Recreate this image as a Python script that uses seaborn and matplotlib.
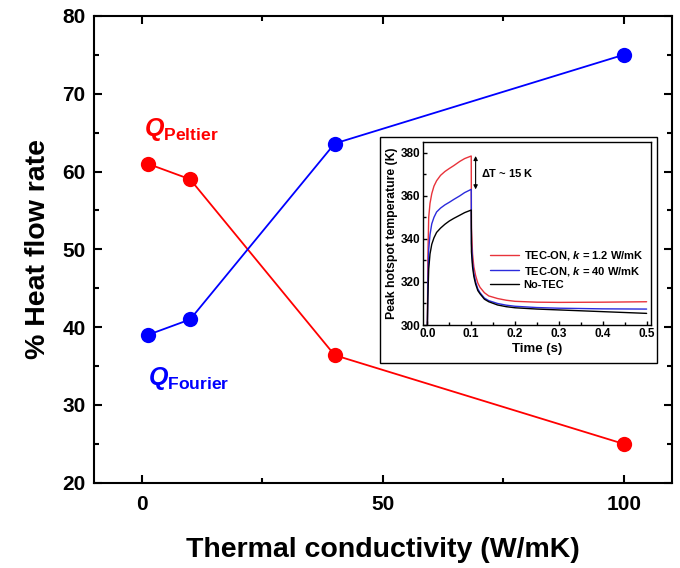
import numpy as np
import pandas as pd
import matplotlib
matplotlib.use("Agg")
import matplotlib.pyplot as plt
import seaborn as sns
from matplotlib.patches import Rectangle
from matplotlib.ticker import MultipleLocator

# ---------------- data ----------------
k_values = [1.2, 10, 40, 100]
q_peltier = [61.0, 59.0, 36.4, 25.0]
q_fourier = [39.0, 41.0, 63.6, 75.0]

inset_time = [0, 0.001, 0.003, 0.006, 0.01, 0.015, 0.021, 0.03, 0.04, 0.05,
              0.06, 0.074, 0.085, 0.1, 0.1005, 0.103, 0.106, 0.11, 0.115,
              0.12, 0.13, 0.14, 0.16, 0.18, 0.2, 0.25, 0.3, 0.4, 0.5]
temp_tec_k12 = [300, 330, 350, 356.5, 361, 364.5, 367, 369.5, 371.3, 372.7,
                374, 376, 377.3, 378.5, 345, 333, 327, 323, 319.5,
                317.5, 315, 313.5, 312.3, 311.5, 311, 310.6, 310.5, 310.6, 310.8]
temp_tec_k40 = [300, 318, 335, 342, 347, 350, 352.5, 354.3, 355.8, 357,
                358.3, 360, 361.5, 363, 338, 329, 324, 320, 316.8,
                315, 312.5, 311.3, 310, 309.2, 308.7, 308.1, 307.8, 307.5, 307.4]
temp_no_tec = [300, 312, 326, 333, 337.5, 340.5, 343, 345, 346.8, 348.3,
               349.5, 351, 352.2, 353.4, 334, 327, 322.5, 319, 316,
               314.5, 312, 310.8, 309.3, 308.5, 308, 307.4, 307, 306.2, 305.4]
inset_labels = [r"TEC-ON, $k$ = 1.2 W/mK", r"TEC-ON, $k$ = 40 W/mK", "No-TEC"]

# ---------------- style ----------------
sns.set_theme(style="ticks")
plt.rcParams["font.family"] = ["Liberation Sans", "DejaVu Sans"]
plt.rcParams["font.weight"] = "bold"
plt.rcParams["mathtext.fontset"] = "custom"
plt.rcParams["mathtext.it"] = "Liberation Sans:italic:bold"
plt.rcParams["mathtext.rm"] = "Liberation Sans:bold"
plt.rcParams["mathtext.bf"] = "Liberation Sans:bold"
plt.rcParams["axes.linewidth"] = 1.5
for key in ["text.color", "axes.labelcolor", "xtick.color", "ytick.color",
            "axes.edgecolor", "xtick.labelcolor", "ytick.labelcolor"]:
    plt.rcParams[key] = "black"

fig = plt.figure(figsize=(6.8, 5.68), dpi=100)
ax = fig.add_axes([0.138, 0.150, 0.850, 0.822])

main_df = pd.DataFrame({
    "k": k_values * 2,
    "q": q_peltier + q_fourier,
    "series": ["Peltier"] * len(k_values) + ["Fourier"] * len(k_values),
})
sns.lineplot(data=main_df, x="k", y="q", hue="series",
             palette={"Peltier": "#ff0000", "Fourier": "#0000ff"},
             marker="o", markersize=11, markeredgewidth=0, linewidth=1.3,
             legend=False, ax=ax)

ax.set_xlim(-10, 110)
ax.set_ylim(20, 80)
ax.xaxis.set_major_locator(MultipleLocator(50))
ax.xaxis.set_minor_locator(MultipleLocator(25))
ax.yaxis.set_major_locator(MultipleLocator(10))
ax.yaxis.set_minor_locator(MultipleLocator(5))
ax.tick_params(which="both", direction="in", top=True, right=True,
               width=1.5, labelsize=15)
ax.tick_params(which="major", length=6)
ax.tick_params(which="minor", length=3.5)
ax.tick_params(axis="x", pad=9)
ax.tick_params(axis="y", pad=6)
for lab in ax.get_xticklabels() + ax.get_yticklabels():
    lab.set_fontweight("bold")
ax.set_xlabel("Thermal conductivity (W/mK)", fontsize=20.5, fontweight="bold", labelpad=16)
ax.set_ylabel("% Heat flow rate", fontsize=20.5, fontweight="bold", labelpad=8)

ax.text(0.5, 64.6, r"$Q_{\mathrm{Peltier}}$", color="#ff0000", fontsize=18,
        ha="left", va="baseline")
ax.text(1.2, 32.6, r"$Q_{\mathrm{Fourier}}$", color="#0000ff", fontsize=18,
        ha="left", va="baseline")

# frame around the inset
frame = Rectangle((380 / 680, 1 - 363 / 568), (657 - 380) / 680, (363 - 137) / 568,
                  transform=fig.transFigure, facecolor="white", edgecolor="black",
                  linewidth=1.0, zorder=1)
fig.add_artist(frame)

ins = fig.add_axes([423 / 680, 1 - 325 / 568, (651 - 423) / 680, (325 - 142) / 568])
ins.set_zorder(2)
n = len(inset_time)
inset_df = pd.DataFrame({
    "t": inset_time * 3,
    "T": temp_tec_k12 + temp_tec_k40 + temp_no_tec,
    "case": [inset_labels[0]] * n + [inset_labels[1]] * n + [inset_labels[2]] * n,
})
sns.lineplot(data=inset_df, x="t", y="T", hue="case", hue_order=inset_labels,
             palette=["#e8333b", "#2b2bdc", "#000000"], linewidth=1.0,
             sort=False, ax=ins)
ins.set_xlim(-0.01, 0.51)
ins.set_ylim(300, 385)
ins.xaxis.set_major_locator(MultipleLocator(0.1))
ins.xaxis.set_minor_locator(MultipleLocator(0.05))
ins.yaxis.set_major_locator(MultipleLocator(20))
ins.yaxis.set_minor_locator(MultipleLocator(10))
ins.tick_params(which="both", direction="in", width=1.0, labelsize=8.5, pad=2)
ins.tick_params(which="major", length=3)
ins.tick_params(which="minor", length=2)
for sp in ins.spines.values():
    sp.set_linewidth(1.0)
for lab in ins.get_xticklabels() + ins.get_yticklabels():
    lab.set_fontweight("bold")
ins.set_xlabel("Time (s)", fontsize=9.5, fontweight="bold", labelpad=2)
ins.set_ylabel("Peak hotspot temperature (K)", fontsize=8.8, fontweight="bold", labelpad=2)
ins.annotate("", xy=(0.11, 363), xytext=(0.11, 378.5),
             arrowprops=dict(arrowstyle="<|-|>", color="black", lw=0.8,
                             mutation_scale=6, shrinkA=0, shrinkB=0))
ins.text(0.123, 370.5, r"$\Delta$T ~ 15 K", fontsize=8, fontweight="bold",
         ha="left", va="center")
leg = ins.legend(loc="lower right", bbox_to_anchor=(1.0, 0.15), frameon=False,
                 fontsize=8, handlelength=2.6, handletextpad=0.4,
                 labelspacing=0.2, borderpad=0.2)
for txt in leg.get_texts():
    txt.set_fontweight("bold")

fig.savefig("out.png", dpi=100)
